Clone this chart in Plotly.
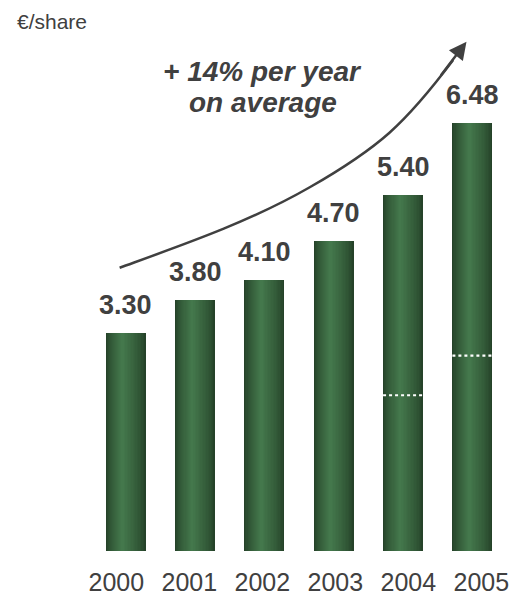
import plotly.graph_objects as go
import numpy as np

years = ["2000", "2001", "2002", "2003", "2004", "2005"]
dividends = [3.30, 3.80, 4.10, 4.70, 5.40, 6.48]
value_labels = ["3.30", "3.80", "4.10", "4.70", "5.40", "6.48"]
# dotted split markers inside the 2004 and 2005 bars
split_idx = [4, 5]
split_vals = [2.36, 2.96]
# trend arrow (decorative bezier curve) in axis units: start, then two cubic segments
trend_start = (-0.087, 4.292)
trend_seg1 = [(0.850, 4.648), (1.792, 4.989), (2.655, 5.511)]
trend_seg2 = [(3.657, 6.114), (4.030, 6.470), (4.723, 7.439)]
arrow_from = (4.531, 7.186)
arrow_tip = (4.916, 7.717)

TXT = "#404040"
FONT = "Liberation Sans, Arial, sans-serif"
W = 0.575
xs = list(range(len(years)))

fig = go.Figure()

# gradient bars: overlaid layers shrinking towards a highlight left of centre
edge = np.array([0x25, 0x42, 0x29])
mid = np.array([0x44, 0x78, 0x4c])
N = 16
hl = 0.42
for k in range(N):
    t = k / (N - 1)
    c = edge + (mid - edge) * (t ** 0.75)
    col = "rgb(%d,%d,%d)" % tuple(c.astype(int))
    width = W * (1 - k / N)
    offset = -W / 2 + hl * W * k / N
    fig.add_trace(go.Bar(x=xs, y=dividends, width=[width] * 6, offset=[offset] * 6,
                         marker=dict(color=col, line=dict(width=0)),
                         hoverinfo="skip", showlegend=False))

# dotted white split lines
for i, v in zip(split_idx, split_vals):
    fig.add_trace(go.Scatter(x=[i - W / 2, i + W / 2], y=[v, v], mode="lines",
                             line=dict(color="white", width=2.2, dash="dot"),
                             hoverinfo="skip", showlegend=False))

# trend curve
def pt(p):
    return "%g,%g" % p

path = "M %s C %s C %s" % (pt(trend_start),
                           " ".join(pt(p) for p in trend_seg1),
                           " ".join(pt(p) for p in trend_seg2))
fig.add_shape(type="path", path=path, xref="x", yref="y",
              line=dict(color=TXT, width=2.5))
fig.add_annotation(x=arrow_tip[0], y=arrow_tip[1], ax=arrow_from[0], ay=arrow_from[1],
                   xref="x", yref="y", axref="x", ayref="y", text="", showarrow=True,
                   arrowhead=2, arrowsize=1.4, arrowwidth=2.5, arrowcolor=TXT, standoff=0)

# value labels
for i, (v, lab) in enumerate(zip(dividends, value_labels)):
    fig.add_annotation(x=i, y=v, text="<b>%s</b>" % lab, showarrow=False,
                       yanchor="middle", yshift=28,
                       font=dict(family=FONT, size=27, color=TXT))

fig.add_annotation(x=1.98, y=7.26, text="<b><i>+ 14% per year</i></b>", showarrow=False,
                   font=dict(family=FONT, size=28, color=TXT))
fig.add_annotation(x=1.98, y=6.80, text="<b><i>on average</i></b>", showarrow=False,
                   font=dict(family=FONT, size=28, color=TXT))
fig.add_annotation(x=-0.183, y=0.978, xref="paper", yref="paper", xanchor="left",
                   yanchor="middle", text="€/share", showarrow=False,
                   font=dict(family=FONT, size=21, color=TXT))

# invisible trace on xaxis2 for the year tick labels
fig.add_trace(go.Scatter(x=xs, y=[0] * 6, xaxis="x2", mode="markers",
                         marker=dict(opacity=0), hoverinfo="skip", showlegend=False))

fig.update_layout(
    width=515, height=596, barmode="overlay", bargap=0,
    margin=dict(l=91, r=8, t=10, b=45, autoexpand=False),
    paper_bgcolor="white", plot_bgcolor="white",
    xaxis=dict(range=[-0.5, 5.5], showticklabels=False, showgrid=False,
               zeroline=False, showline=False, ticks="", automargin=False),
    xaxis2=dict(range=[-0.347, 5.351], overlaying="x", side="bottom",
                tickvals=xs, ticktext=years, showgrid=False, zeroline=False,
                showline=False, ticks="", ticklabelstandoff=14, automargin=False,
                tickfont=dict(family=FONT, size=25, color=TXT)),
    yaxis=dict(range=[0, 8.197], visible=False, showgrid=False, zeroline=False,
               automargin=False),
)

fig.write_html("out.html")
